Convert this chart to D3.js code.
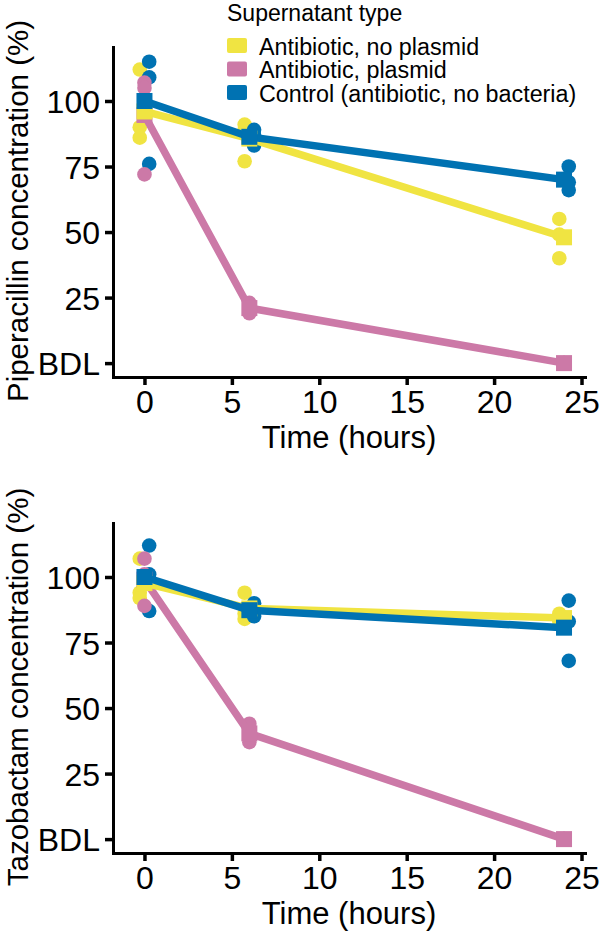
<!DOCTYPE html>
<html>
<head>
<meta charset="utf-8">
<script src="https://cdn.jsdelivr.net/npm/d3@7"></script>
<style>
  body { margin: 0; background: #fff; }
  svg { display: block; font-family: "Liberation Sans", Arial, sans-serif; }
</style>
</head>
<body>
<svg id="chart" width="600" height="933"></svg>
<script>
// ---- Data ----
const times = [0, 6, 24];
const seriesNames = ["Antibiotic, no plasmid", "Antibiotic, plasmid", "Control (antibiotic, no bacteria)"];
const seriesColors = ["#F0E442", "#CC79A7", "#0072B2"];
const xTicks = [0, 5, 10, 15, 20, 25];
const yTicks = [0, 25, 50, 75, 100];
const yTickLabels = ["BDL", "25", "50", "75", "100"];
const legendTitle = "Supernatant type";
const xTitle = "Time (hours)";
const panelTitles = ["Piperacillin concentration (%)", "Tazobactam concentration (%)"];

// replicate values per time point (rows: 0h, 6h, 24h)
const pipNoPlasmid = [[112, 90, 86], [91, 89, 77], [55, 49, 40]];
const pipPlasmid   = [[107, 105, 72], [23, 21, 19], [0, 0, 0]];
const pipControl   = [[115, 109, 76], [89, 87, 83], [75, 69, 66]];
const tazNoPlasmid = [[107, 94, 92], [94, 86, 84], [86, 84, 83]];
const tazPlasmid   = [[107, 101, 89], [44, 40, 37], [0, 0, 0]];
const tazControl   = [[112, 101, 87], [90, 87, 85], [91, 83, 68]];

const panels = [
  { title: panelTitles[0], series: [pipNoPlasmid, pipPlasmid, pipControl], top: 47, bottom: 377 },
  { title: panelTitles[1], series: [tazNoPlasmid, tazPlasmid, tazControl], top: 523, bottom: 853 }
];

// ---- Layout ----
const svg = d3.select("#chart");
const left = 113, right = 585;
const x = d3.scaleLinear().domain([-1.8, 25.2]).range([left, right]);
const dodge = [-0.27, 0, 0.27];
const fontTick = 32, fontTitle = 31;

panels.forEach((p) => {
  const y = d3.scaleLinear().domain([-5.3, 120.6]).range([p.bottom, p.top]);
  const g = svg.append("g");

  // axes
  const xa = g.append("g").attr("transform", `translate(0,${p.bottom})`)
    .call(d3.axisBottom(x).tickValues(xTicks).tickSize(8).tickSizeOuter(0).tickPadding(5));
  const ya = g.append("g").attr("transform", `translate(${left},0)`)
    .call(d3.axisLeft(y).tickValues(yTicks).tickFormat((d, i) => yTickLabels[i]).tickSize(8).tickSizeOuter(0).tickPadding(5));
  [xa, ya].forEach(a => {
    a.select(".domain").attr("stroke", "#000").attr("stroke-width", 3).attr("stroke-linecap", "square");
    a.selectAll(".tick line").attr("stroke", "#000").attr("stroke-width", 3.5);
    a.selectAll(".tick text").attr("fill", "#000").style("font-size", fontTick + "px")
      .style("font-family", '"Liberation Sans", Arial, sans-serif');
  });
  xa.selectAll(".tick text").attr("dy", "0.71em");
  ya.selectAll(".tick text").attr("dy", "0.36em");

  // axis titles
  g.append("text").attr("x", (left + right) / 2).attr("y", p.bottom + 71)
    .attr("text-anchor", "middle").style("font-size", fontTitle + "px").text(xTitle);
  g.append("text").attr("transform", `translate(28,${(p.top + p.bottom) / 2 - 1}) rotate(-90)`)
    .attr("text-anchor", "middle").style("font-size", "29.5px").text(p.title);

  // points
  const pointOrder = [0, 2, 1];
  pointOrder.forEach(si => {
    const pts = [];
    p.series[si].forEach((reps, ti) => reps.forEach(v => pts.push({ t: times[ti], v })));
    g.append("g").selectAll("circle").data(pts).join("circle")
      .attr("cx", d => x(d.t + dodge[si])).attr("cy", d => y(d.v))
      .attr("r", 7.3).attr("fill", seriesColors[si]);
  });

  // mean lines and squares
  const lineOrder = [1, 0, 2];
  const line = d3.line().x(d => x(d.t)).y(d => y(d.m));
  lineOrder.forEach(si => {
    const means = p.series[si].map((reps, ti) => ({ t: times[ti], m: d3.mean(reps) }));
    g.append("path").datum(means).attr("d", line).attr("fill", "none")
      .attr("stroke", seriesColors[si]).attr("stroke-width", 7.5).attr("stroke-linejoin", "round");
    g.append("g").selectAll("rect").data(means).join("rect")
      .attr("x", d => x(d.t) - 8).attr("y", d => y(d.m) - 8)
      .attr("width", 16).attr("height", 16).attr("fill", seriesColors[si]);
  });
});

// ---- Legend ----
const lg = svg.append("g");
lg.append("text").attr("x", 227).attr("y", 21).style("font-size", "23px").text(legendTitle);
seriesNames.forEach((name, i) => {
  const yy = 38 + i * 23.5;
  lg.append("rect").attr("x", 227).attr("y", yy).attr("width", 20).attr("height", 15)
    .attr("rx", 2).attr("fill", seriesColors[i]);
  lg.append("text").attr("x", 259).attr("y", yy + 16.5).style("font-size", "23.3px").text(name);
});
</script>
</body>
</html>
